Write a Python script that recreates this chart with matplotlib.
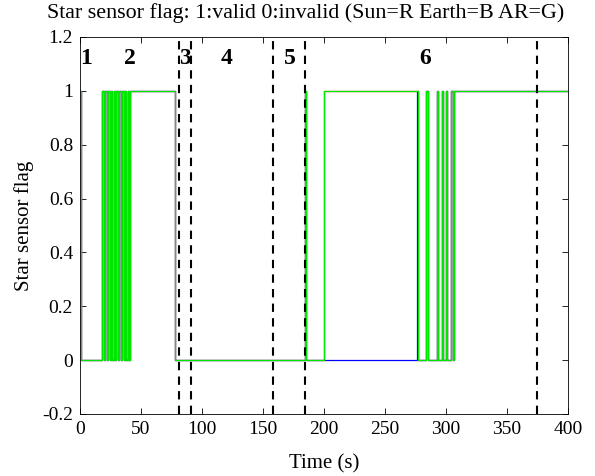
import matplotlib
matplotlib.use("Agg")
import matplotlib.pyplot as plt
from matplotlib.ticker import FuncFormatter

plt.rcParams['font.family'] = ['Liberation Serif', 'DejaVu Serif']

# Change points (time in s, flag value) -- step functions
ar_times = [0, 0.8, 18, 19.5, 20.5, 22, 23, 24.3, 25.2, 26.5, 27.5, 28.8, 29.7, 31, 32, 33.5,
            34.5, 35.8, 36.7, 38, 39, 40, 41, 78, 184.5, 185.3, 200, 277, 284, 285.5,
            292.3, 293.7, 296.4, 297.8, 299.7, 301, 303.9, 305.5, 306.5, 400]
ar_vals = [1, 0, 1, 0, 1, 0, 1, 0, 1, 0, 1, 0, 1, 0, 1, 0,
           1, 0, 1, 0, 1, 0, 1, 0, 1, 0, 1, 0, 1, 0,
           1, 0, 1, 0, 1, 0, 1, 0, 1, 1]

sun_times = ar_times
sun_vals = ar_vals

earth_times = [0, 0.8, 18, 19.5, 20.5, 22, 23, 24.3, 25.2, 26.5, 27.5, 28.8, 29.7, 31, 32, 33.5,
               34.5, 35.8, 36.7, 38, 39, 40, 41, 78, 184.5, 185.3, 276, 277, 284, 285.5,
               292.3, 293.7, 296.4, 297.8, 299.7, 301, 303.9, 305.5, 306.5, 400]
earth_vals = [1, 0, 1, 0, 1, 0, 1, 0, 1, 0, 1, 0, 1, 0, 1, 0,
              1, 0, 1, 0, 1, 0, 1, 0, 1, 0, 1, 0, 1, 0,
              1, 0, 1, 0, 1, 0, 1, 0, 1, 1]

phase_bounds = [81, 91, 158, 184.5, 374.5]
phase_labels = ['1', '2', '3', '4', '5', '6']
phase_label_x = [5, 41, 86, 120, 172, 283]

fig = plt.figure(figsize=(5.95, 4.76), dpi=100)
ax = fig.add_axes([0.1345, 0.1303, 0.8201, 0.7920])

ax.plot(sun_times, sun_vals, color='red', lw=0.9, drawstyle='steps-post')
ax.plot(earth_times, earth_vals, color='blue', lw=0.9, drawstyle='steps-post')
ax.plot(ar_times, ar_vals, color='#00e600', lw=0.9, drawstyle='steps-post')

for xb in phase_bounds:
    ax.axvline(xb, color='black', ls=(0, (4, 3)), lw=1.5)

for lab, xl in zip(phase_labels, phase_label_x):
    ax.text(xl, 1.12, lab, fontsize=17, fontweight='bold', ha='center', va='center')

ax.set_xlim(0, 400)
ax.set_ylim(-0.2, 1.2)
ax.set_xticks(range(0, 401, 50))
ax.set_yticks([-0.2, 0, 0.2, 0.4, 0.6, 0.8, 1.0, 1.2])
ax.yaxis.set_major_formatter(FuncFormatter(lambda v, p: f"{v:g}"))
ax.tick_params(direction='in', top=True, right=True, labelsize=14, length=4, width=0.6, pad=5)
for s in ax.spines.values():
    s.set_linewidth(0.6)

ax.set_xlabel('Time (s)', fontsize=15, labelpad=12)
ax.set_ylabel('Star sensor flag', fontsize=15, labelpad=6)
fig.text(0.514, 0.972, 'Star sensor flag: 1:valid 0:invalid (Sun=R Earth=B AR=G)',
         fontsize=15.8, ha='center', va='center')

fig.savefig('out.png', dpi=100)
